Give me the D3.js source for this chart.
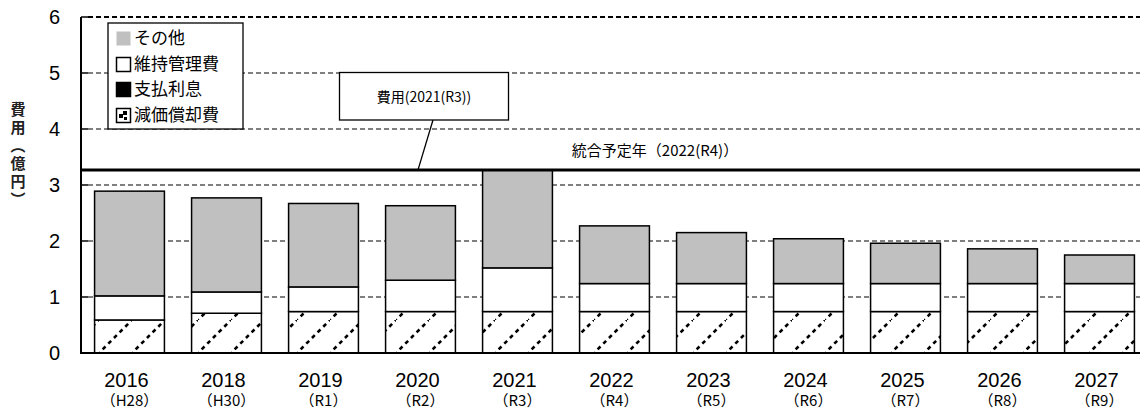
<!DOCTYPE html>
<html><head><meta charset="utf-8">
<script src="https://cdn.jsdelivr.net/npm/d3@7"></script>
<style>
body{margin:0;background:#fff;}
svg{display:block;}
</style></head>
<body>
<svg id="chart" width="1140" height="411"></svg>
<script>
const years = ["2016","2018","2019","2020","2021","2022","2023","2024","2025","2026","2027"];
const eras  = ["（H28）","（H30）","（R1）","（R2）","（R3）","（R4）","（R5）","（R6）","（R7）","（R8）","（R9）"];
const depreciation = [0.59,0.71,0.74,0.74,0.74,0.74,0.74,0.74,0.74,0.74,0.74];
const interest     = [0,0,0,0,0,0,0,0,0,0,0];
const maintenance  = [0.43,0.38,0.44,0.56,0.78,0.50,0.50,0.50,0.50,0.50,0.50];
const other        = [1.87,1.68,1.49,1.33,1.75,1.03,0.91,0.80,0.72,0.62,0.51];
const yTicks = [0,1,2,3,4,5,6];
const seriesNames = ["減価償却費","支払利息","維持管理費","その他"];
const legendOrder = ["その他","維持管理費","支払利息","減価償却費"];
const integrationValue = 3.27;
const integrationLabel = "統合予定年（2022(R4)）";
const calloutLabel = "費用(2021(R3))";
const yLabel = "費用（億円）";

(function(){
const svg = d3.select("#chart");
const jp = "'Noto Sans CJK JP','Noto Sans',sans-serif";
const num = "'Liberation Sans',Arial,sans-serif";

const pL = 81, pR = 1148, pT = 17, pB = 353;
const x = d3.scaleBand().domain(years).range([pL, pR]).paddingInner(0.28).paddingOuter(0.14);
const y = d3.scaleLinear().domain([0,6]).range([pB, pT]);

const defs = svg.append("defs");
const pat = defs.append("pattern").attr("id","hatch").attr("patternUnits","userSpaceOnUse")
  .attr("width",33).attr("height",33).attr("x",0).attr("y",pB);
pat.append("rect").attr("width",33).attr("height",33).attr("fill","#fff");
pat.append("line").attr("x1",-2).attr("y1",35).attr("x2",35).attr("y2",-2)
  .attr("stroke","#000").attr("stroke-width",2.6).attr("stroke-dasharray","4,4");

svg.append("g").selectAll("line").data(yTicks.filter(d=>d>0)).join("line")
  .attr("x1",pL+7).attr("x2",1140).attr("y1",d=>y(d)).attr("y2",d=>y(d))
  .attr("stroke","#000").attr("stroke-width",d=>d===6?1.8:1).attr("stroke-dasharray","5,3");

const data = years.map((yr,i)=>({year:yr,"減価償却費":depreciation[i],"支払利息":interest[i],"維持管理費":maintenance[i],"その他":other[i]}));
const stack = d3.stack().keys(seriesNames)(data);
const fills = {"減価償却費":"url(#hatch)","支払利息":"#000","維持管理費":"#fff","その他":"#c0c0c0"};
svg.append("g").selectAll("g").data(stack).join("g")
  .attr("fill",d=>fills[d.key])
  .selectAll("rect").data(d=>d.filter(p=>p[1]-p[0]>0)).join("rect")
  .attr("x",d=>x(d.data.year)).attr("width",x.bandwidth())
  .attr("y",d=>y(d[1])).attr("height",d=>y(d[0])-y(d[1]))
  .attr("stroke","#000").attr("stroke-width",1.5);

const yAxis = d3.axisLeft(y).tickValues(yTicks).tickSize(0).tickPadding(21).tickFormat(d3.format("d"));
const ya = svg.append("g").attr("transform",`translate(${pL},0)`).call(yAxis);
ya.select(".domain").remove();
ya.selectAll("text").attr("font-family",num).attr("font-size",20).attr("fill","#000");
svg.append("g").selectAll("line").data(yTicks).join("line")
  .attr("x1",pL).attr("x2",pL+7).attr("y1",d=>y(d)).attr("y2",d=>y(d)).attr("stroke","#000").attr("stroke-width",1.5);
svg.append("line").attr("x1",pL).attr("x2",pL).attr("y1",pT).attr("y2",pB+1).attr("stroke","#000").attr("stroke-width",2);
svg.append("line").attr("x1",pL-1).attr("x2",1140).attr("y1",pB).attr("y2",pB).attr("stroke","#000").attr("stroke-width",2);

const xa = svg.append("g").attr("transform",`translate(0,${pB})`).call(d3.axisBottom(x).tickSize(0).tickFormat(()=>""));
xa.select(".domain").remove();
const xl = svg.append("g");
xl.selectAll("text.yr").data(years).join("text").attr("class","yr")
  .attr("x",d=>x(d)+x.bandwidth()/2-3).attr("y",387).attr("text-anchor","middle")
  .attr("font-family",num).attr("font-size",20).text(d=>d);
xl.selectAll("text.era").data(years).join("text").attr("class","era")
  .attr("x",d=>x(d)+x.bandwidth()/2).attr("y",406).attr("text-anchor","middle")
  .attr("font-family",jp).attr("font-size",15).text((d,i)=>eras[i]);

const iy = y(integrationValue);
svg.append("line").attr("x1",pL).attr("x2",1140).attr("y1",iy).attr("y2",iy).attr("stroke","#000").attr("stroke-width",3);
svg.append("text").attr("x",655).attr("y",iy-14).attr("text-anchor","middle")
  .attr("font-family",jp).attr("font-size",15).text(integrationLabel);

svg.append("line").attr("x1",433).attr("y1",120).attr("x2",418).attr("y2",iy).attr("stroke","#000").attr("stroke-width",1.3);
svg.append("rect").attr("x",339.5).attr("y",72.5).attr("width",169).attr("height",47.5).attr("fill","#fff").attr("stroke","#000").attr("stroke-width",1.3);
svg.append("text").attr("x",424).attr("y",102).attr("text-anchor","middle")
  .attr("font-family",jp).attr("font-size",14).text(calloutLabel);

const lg = svg.append("g");
lg.append("rect").attr("x",108).attr("y",23).attr("width",135).attr("height",106).attr("fill","#fff").attr("stroke","#000").attr("stroke-width",1.3);
const lys = [38,64,89,115];
legendOrder.forEach((k,i)=>{
  const cy = lys[i];
  const g = lg.append("g");
  if(k==="減価償却費"){
    g.append("rect").attr("x",116.5).attr("y",cy-6.5).attr("width",14).attr("height",14).attr("fill","#fff").attr("stroke","#000").attr("stroke-width",1.5);
    g.append("rect").attr("x",119).attr("y",cy-1).attr("width",4).attr("height",4).attr("fill","#000");
    g.append("rect").attr("x",123).attr("y",cy-4).attr("width",4).attr("height",4).attr("fill","#000");
    g.append("rect").attr("x",124).attr("y",cy+2).attr("width",3).attr("height",3).attr("fill","#000");
  } else {
    g.append("rect").attr("x",116.5).attr("y",cy-6.5).attr("width",14).attr("height",14)
      .attr("fill",fills[k]).attr("stroke",k==="その他"?"none":"#000").attr("stroke-width",1.5);
  }
  g.append("text").attr("x",134).attr("y",cy+6).attr("font-family",jp).attr("font-size",17).text(k);
});

svg.append("text").attr("x",18).attr("y",102).attr("writing-mode","vertical-rl")
  .attr("letter-spacing",3)
  .attr("font-family",jp).attr("font-size",15).attr("font-weight","bold").attr("fill","#222").text(yLabel);
})();
</script>
</body></html>
